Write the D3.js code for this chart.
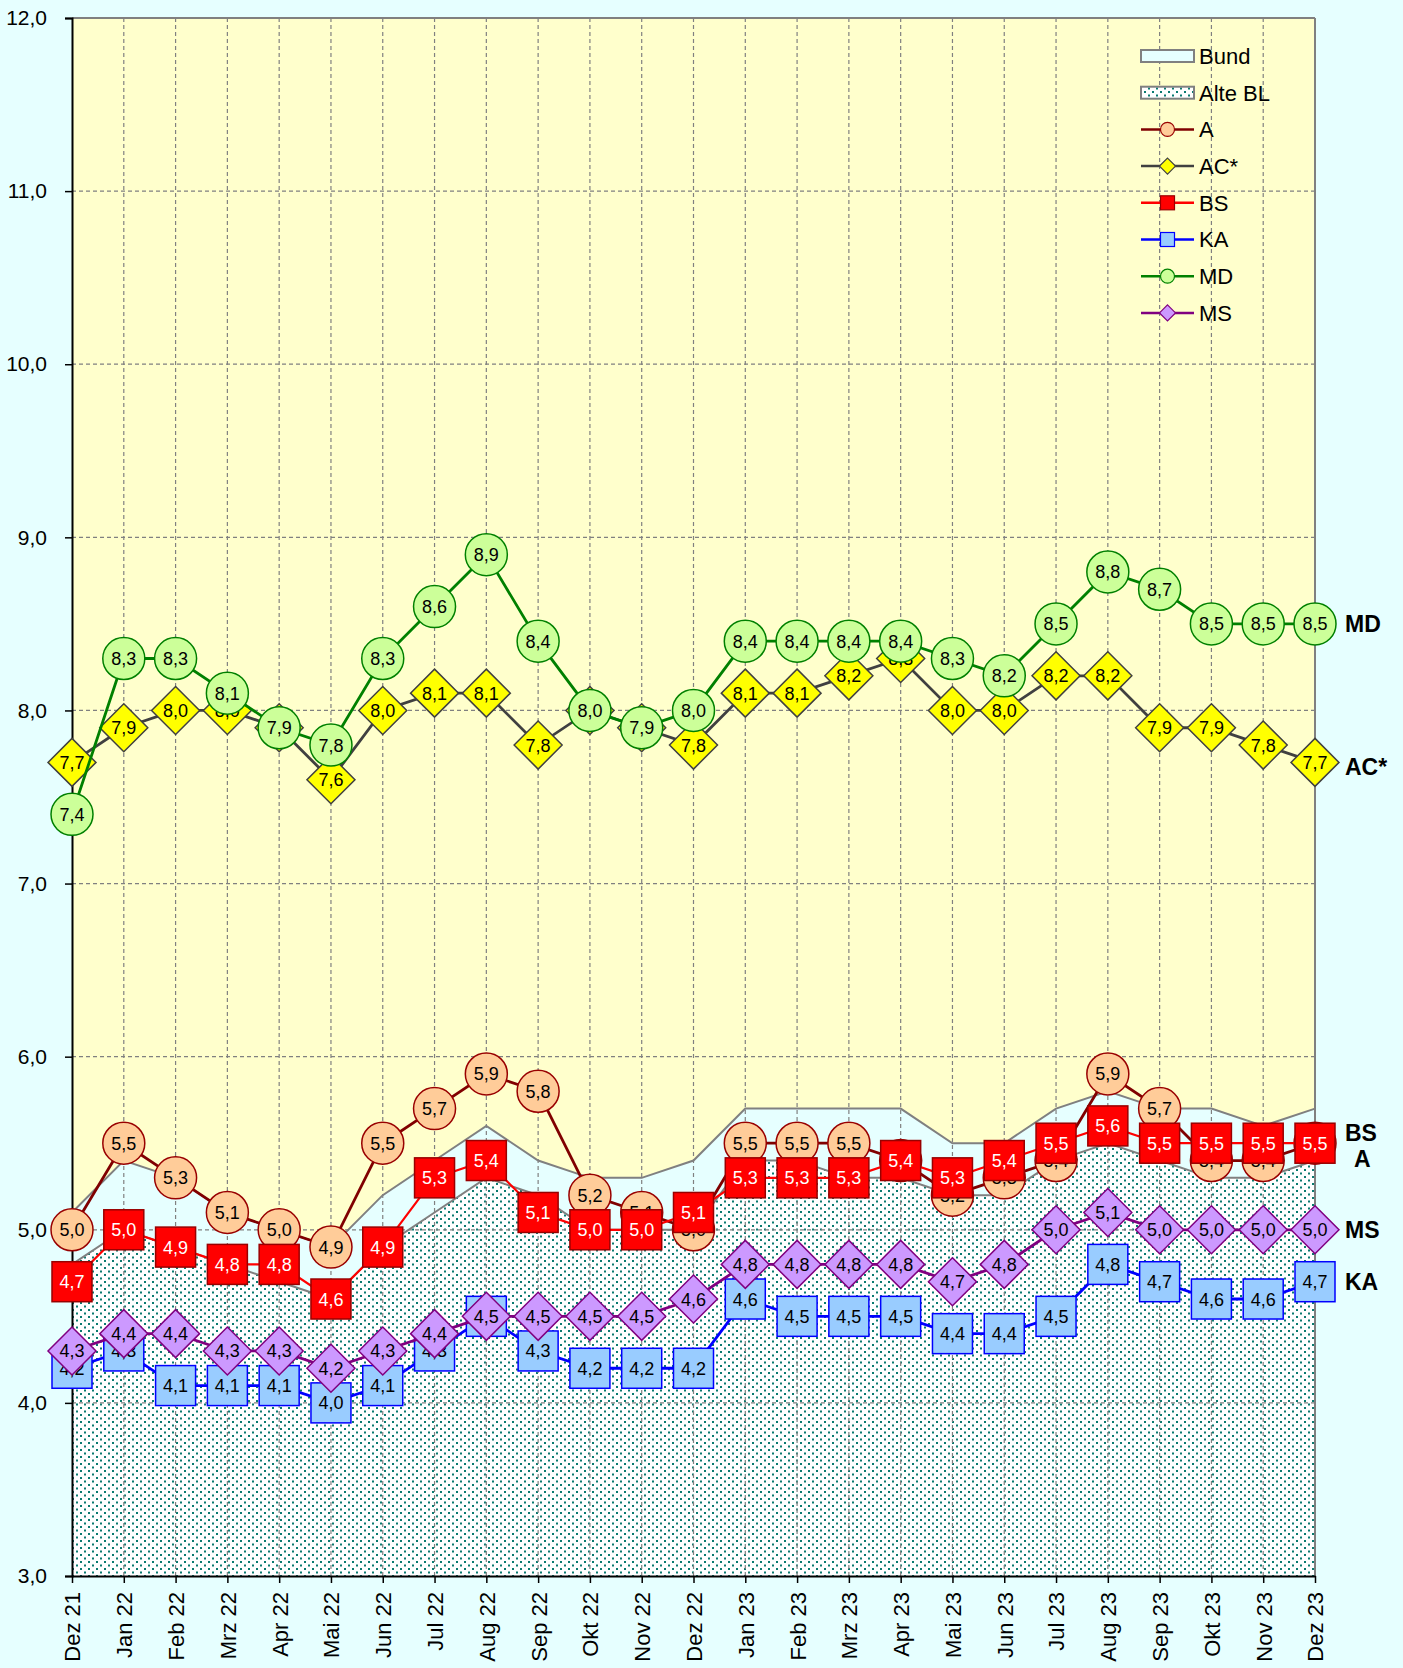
<!DOCTYPE html>
<html><head><meta charset="utf-8">
<script src="https://cdn.jsdelivr.net/npm/d3@7"></script>
<style>
html,body{margin:0;padding:0;background:#E6FFFF;}
svg{display:block;font-family:"Liberation Sans",Arial,sans-serif;}
</style></head>
<body>
<svg id="chart" width="1403" height="1668"></svg>
<script>
const months = ["Dez 21","Jan 22","Feb 22","Mrz 22","Apr 22","Mai 22","Jun 22","Jul 22","Aug 22","Sep 22","Okt 22","Nov 22","Dez 22","Jan 23","Feb 23","Mrz 23","Apr 23","Mai 23","Jun 23","Jul 23","Aug 23","Sep 23","Okt 23","Nov 23","Dez 23"];
const yTicks = [3,4,5,6,7,8,9,10,11,12];
const bund   = [5.1,5.4,5.3,5.1,5.0,4.9,5.2,5.4,5.6,5.4,5.3,5.3,5.4,5.7,5.7,5.7,5.7,5.5,5.5,5.7,5.8,5.7,5.7,5.6,5.7];
const alteBL = [4.8,5.0,4.9,4.8,4.7,4.6,4.9,5.1,5.3,5.2,5.0,5.0,5.0,5.4,5.4,5.3,5.3,5.2,5.2,5.4,5.5,5.4,5.3,5.3,5.4];
const valA   = [5.0,5.5,5.3,5.1,5.0,4.9,5.5,5.7,5.9,5.8,5.2,5.1,5.0,5.5,5.5,5.5,5.4,5.2,5.3,5.4,5.9,5.7,5.4,5.4,5.5];
const valAC  = [7.7,7.9,8.0,8.0,7.9,7.6,8.0,8.1,8.1,7.8,8.0,7.9,7.8,8.1,8.1,8.2,8.3,8.0,8.0,8.2,8.2,7.9,7.9,7.8,7.7];
const valBS  = [4.7,5.0,4.9,4.8,4.8,4.6,4.9,5.3,5.4,5.1,5.0,5.0,5.1,5.3,5.3,5.3,5.4,5.3,5.4,5.5,5.6,5.5,5.5,5.5,5.5];
const valKA  = [4.2,4.3,4.1,4.1,4.1,4.0,4.1,4.3,4.5,4.3,4.2,4.2,4.2,4.6,4.5,4.5,4.5,4.4,4.4,4.5,4.8,4.7,4.6,4.6,4.7];
const valMD  = [7.4,8.3,8.3,8.1,7.9,7.8,8.3,8.6,8.9,8.4,8.0,7.9,8.0,8.4,8.4,8.4,8.4,8.3,8.2,8.5,8.8,8.7,8.5,8.5,8.5];
const valMS  = [4.3,4.4,4.4,4.3,4.3,4.2,4.3,4.4,4.5,4.5,4.5,4.5,4.6,4.8,4.8,4.8,4.8,4.7,4.8,5.0,5.1,5.0,5.0,5.0,5.0];
const seriesNames = ["A","AC*","BS","KA","MD","MS"];
const endLabels = [["MD",0],["AC*",4],["BS",-11],["A",15],["MS",0],["KA",0]];

const series = [
  {name:"A",   vals:valA,  line:"#800000", fill:"#FFCC99", stroke:"#990000", shape:"circle",  text:"#000"},
  {name:"AC*", vals:valAC, line:"#404040", fill:"#FFFF00", stroke:"#404040", shape:"diamond", text:"#000"},
  {name:"BS",  vals:valBS, line:"#FF0000", fill:"#FF0000", stroke:"#990000", shape:"square",  text:"#fff"},
  {name:"KA",  vals:valKA, line:"#0000FF", fill:"#99CCFF", stroke:"#0000FF", shape:"square",  text:"#000"},
  {name:"MD",  vals:valMD, line:"#008000", fill:"#CCFF99", stroke:"#008000", shape:"circle",  text:"#000"},
  {name:"MS",  vals:valMS, line:"#800080", fill:"#CC99FF", stroke:"#800080", shape:"diamond", text:"#000"}
];

const L = 72, R = 1315, T = 18, B = 1576;
const svg = d3.select("#chart");
const x = d3.scalePoint().domain(months).range([L, R]);
const y = d3.scaleLinear().domain([3, 12]).range([B, T]);

// pattern
const defs = svg.append("defs");
const pat = defs.append("pattern").attr("id","dots").attr("patternUnits","userSpaceOnUse")
  .attr("width",8).attr("height",7);
pat.append("rect").attr("width",8).attr("height",7).attr("fill","#FFFFFF");
pat.append("rect").attr("x",0).attr("y",0).attr("width",2).attr("height",2).attr("fill","#0A7A70");
pat.append("rect").attr("x",4).attr("y",3.5).attr("width",2).attr("height",2).attr("fill","#0A7A70");

// plot bg
svg.append("rect").attr("x",L).attr("y",T).attr("width",R-L).attr("height",B-T).attr("fill","#FFFFCC");

// areas
const area = d3.area().x((d,i)=>x(months[i])).y0(y(3)).y1(d=>y(d));
const lineGen = d3.line().x((d,i)=>x(months[i])).y(d=>y(d));
svg.append("path").datum(bund).attr("d",area).attr("fill","#E6FFFF");
svg.append("path").datum(alteBL).attr("d",area).attr("fill","url(#dots)");

// gridlines
svg.append("g").selectAll("line").data(yTicks.filter(t=>t>3 && t<12)).join("line")
  .attr("x1",L).attr("x2",R).attr("y1",d=>y(d)).attr("y2",d=>y(d))
  .attr("stroke","#808080").attr("stroke-width",1.2).attr("stroke-dasharray","4,3");
svg.append("g").selectAll("line").data(months.slice(1,-1)).join("line")
  .attr("x1",d=>x(d)).attr("x2",d=>x(d)).attr("y1",T).attr("y2",B)
  .attr("stroke","#808080").attr("stroke-width",1.2).attr("stroke-dasharray","4,3");

svg.append("path").datum(bund).attr("d",lineGen).attr("fill","none").attr("stroke","#808080").attr("stroke-width",2);
svg.append("path").datum(alteBL).attr("d",lineGen).attr("fill","none").attr("stroke","#808080").attr("stroke-width",2);

// frame
svg.append("line").attr("x1",L).attr("x2",R).attr("y1",T).attr("y2",T).attr("stroke","#808080").attr("stroke-width",2);
svg.append("line").attr("x1",R).attr("x2",R).attr("y1",T).attr("y2",B).attr("stroke","#808080").attr("stroke-width",2);

// axes
const fmt = d => d.toFixed(1).replace(".", ",");
const yAxis = svg.append("g").attr("transform",`translate(${L},0)`)
  .call(d3.axisLeft(y).tickValues(yTicks).tickFormat(fmt).tickSize(7).tickPadding(18));
yAxis.select(".domain").attr("stroke","#000").attr("stroke-width",2);
yAxis.selectAll(".tick line").attr("stroke","#000").attr("stroke-width",1.5);
yAxis.selectAll("text").attr("font-size",21).attr("fill","#000").attr("font-family","Liberation Sans, Arial, sans-serif");

const xAxis = svg.append("g").attr("transform",`translate(0,${B})`)
  .call(d3.axisBottom(x).tickSize(7).tickSizeOuter(0));
xAxis.select(".domain").attr("stroke","#000").attr("stroke-width",2);
xAxis.selectAll(".tick line").attr("stroke","#000").attr("stroke-width",1.5);
xAxis.selectAll("text").attr("font-size",22).attr("fill","#000").attr("font-family","Liberation Sans, Arial, sans-serif")
  .attr("transform","rotate(-90)").attr("x",-16).attr("y",0).attr("dy","0.36em").attr("text-anchor","end");

// markers
function drawMarker(g, shape, cx, cy, s, fill, stroke, sw) {
  if (shape === "circle") {
    g.append("circle").attr("cx",cx).attr("cy",cy).attr("r",s).attr("fill",fill).attr("stroke",stroke).attr("stroke-width",sw);
  } else if (shape === "square") {
    g.append("rect").attr("x",cx-s).attr("y",cy-s).attr("width",2*s).attr("height",2*s).attr("fill",fill).attr("stroke",stroke).attr("stroke-width",sw);
  } else {
    const d = `M${cx},${cy-s}L${cx+s},${cy}L${cx},${cy+s}L${cx-s},${cy}Z`;
    g.append("path").attr("d",d).attr("fill",fill).attr("stroke",stroke).attr("stroke-width",sw);
  }
}
const sizes = {circle:21, square:20, diamond:24};

series.forEach(s => {
  const g = svg.append("g");
  g.append("path").datum(s.vals).attr("d",lineGen).attr("fill","none").attr("stroke",s.line).attr("stroke-width",s.name==="BS"?2.2:2.8);
  s.vals.forEach((v,i) => {
    const cx = x(months[i]), cy = y(v);
    drawMarker(g, s.shape, cx, cy, sizes[s.shape], s.fill, s.stroke, 1.5);
    g.append("text").attr("x",cx).attr("y",cy).attr("dy","0.36em").attr("text-anchor","middle")
      .attr("font-size",18).attr("fill",s.text).text(fmt(v));
  });
});

// end labels
const byName = Object.fromEntries(series.map(s=>[s.name,s]));
endLabels.forEach(([n,off]) => {
  const s = byName[n];
  const v = s.vals[s.vals.length-1];
  svg.append("text").attr("x", n==="A" ? 1354 : 1345).attr("y", y(v)+off).attr("dy","0.36em")
    .attr("font-size",23).attr("font-weight","bold").attr("fill","#000").text(n);
});

// legend
const lg = svg.append("g");
const lx1 = 1141, lx2 = 1194, lmx = 1167.5, ltx = 1199, ly0 = 56, ldy = 36.7;
lg.append("rect").attr("x",lx1).attr("y",ly0-6).attr("width",lx2-lx1).attr("height",12).attr("fill","#E6FFFF").attr("stroke","#808080").attr("stroke-width",2);
lg.append("text").attr("x",ltx).attr("y",ly0).attr("dy","0.36em").attr("font-size",22).text("Bund");
lg.append("rect").attr("x",lx1).attr("y",ly0+ldy-6).attr("width",lx2-lx1).attr("height",12).attr("fill","url(#dots)").attr("stroke","#808080").attr("stroke-width",2);
lg.append("text").attr("x",ltx).attr("y",ly0+ldy).attr("dy","0.36em").attr("font-size",22).text("Alte BL");
const lsizes = {circle:7, square:7, diamond:8};
series.forEach((s,k) => {
  const yy = ly0 + (k+2)*ldy;
  lg.append("line").attr("x1",lx1).attr("x2",lx2).attr("y1",yy).attr("y2",yy).attr("stroke",s.line).attr("stroke-width",2.5);
  drawMarker(lg, s.shape, lmx, yy, lsizes[s.shape], s.fill, s.stroke, 1.2);
  lg.append("text").attr("x",ltx).attr("y",yy).attr("dy","0.36em").attr("font-size",22).text(seriesNames[k]);
});
</script>
</body></html>
